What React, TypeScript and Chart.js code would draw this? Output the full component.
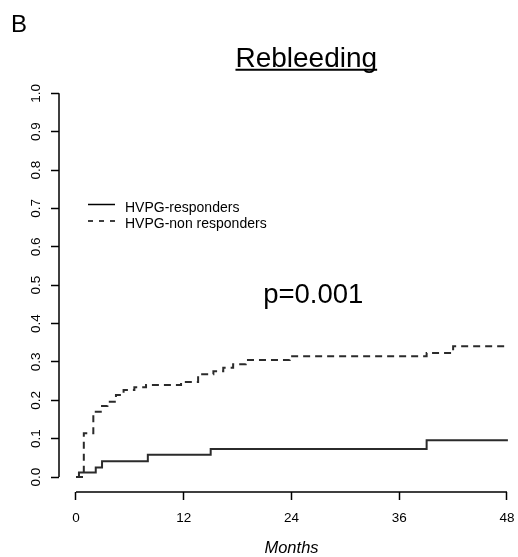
import React, { useEffect, useRef } from "react";
import { Chart, registerables } from "chart.js";

Chart.register(...registerables);

// ---- Data ----
const respondersMonths = [0, 0.33, 2.2, 2.9, 8.0, 15.0, 39.05, 48.1];
const respondersRisk = [0, 0.012, 0.025, 0.041, 0.058, 0.073, 0.096, 0.096];

const nonRespondersMonths = [
  0, 0.87, 1.93, 2.9, 3.5, 4.45, 5.3, 6.5, 7.8, 11.7, 13.6, 15.3, 16.4, 17.5,
  18.9, 23.8, 39.05, 42.0, 48.0,
];
const nonRespondersRisk = [
  0, 0.114, 0.17, 0.185, 0.196, 0.214, 0.227, 0.234, 0.24, 0.248, 0.268, 0.276,
  0.285, 0.294, 0.305, 0.315, 0.323, 0.341, 0.341,
];

const xTicks = [0, 12, 24, 36, 48];
const yTicks = [0, 0.1, 0.2, 0.3, 0.4, 0.5, 0.6, 0.7, 0.8, 0.9, 1.0];

const seriesLabels = ["HVPG-responders", "HVPG-non responders"];
const panelLabel = "B";
const chartTitle = "Rebleeding";
const pValueText = "p=0.001";
const xAxisTitle = "Months";

const FONT = "'Liberation Sans', Arial, Helvetica, sans-serif";
const LINE_COLOR = "#2b2b2b";

const overlayPlugin = {
  id: "overlay",
  afterDraw(chart: any) {
    const { ctx, chartArea } = chart;
    const xs = chart.scales.x;
    const ys = chart.scales.y;
    ctx.save();

    // R-style detached axis lines (from first to last tick)
    ctx.strokeStyle = "#000";
    ctx.lineWidth = 1.5;
    ctx.beginPath();
    ctx.moveTo(xs.getPixelForValue(xTicks[0]), chartArea.bottom);
    ctx.lineTo(xs.getPixelForValue(xTicks[xTicks.length - 1]), chartArea.bottom);
    ctx.moveTo(chartArea.left, ys.getPixelForValue(yTicks[0]));
    ctx.lineTo(chartArea.left, ys.getPixelForValue(yTicks[yTicks.length - 1]));
    ctx.stroke();

    ctx.fillStyle = "#000";
    // Panel label
    ctx.textAlign = "left";
    ctx.textBaseline = "alphabetic";
    ctx.font = `24px ${FONT}`;
    ctx.fillText(panelLabel, 11, 32.3);

    // Title, underlined
    ctx.font = `28px ${FONT}`;
    ctx.textAlign = "center";
    ctx.fillText(chartTitle, 306.3, 66.7);
    const tw = ctx.measureText(chartTitle).width;
    ctx.lineWidth = 2;
    ctx.beginPath();
    ctx.moveTo(306.3 - tw / 2, 69.8);
    ctx.lineTo(306.3 + tw / 2, 69.8);
    ctx.stroke();

    // Legend
    ctx.strokeStyle = "#000";
    ctx.lineWidth = 1.5;
    ctx.setLineDash([]);
    ctx.beginPath();
    ctx.moveTo(88, 204.5);
    ctx.lineTo(115, 204.5);
    ctx.stroke();
    ctx.setLineDash([5, 6]);
    ctx.beginPath();
    ctx.moveTo(88, 221);
    ctx.lineTo(115, 221);
    ctx.stroke();
    ctx.setLineDash([]);
    ctx.font = `14px ${FONT}`;
    ctx.textAlign = "left";
    ctx.fillText(seriesLabels[0], 125, 211.7);
    ctx.fillText(seriesLabels[1], 125, 228.3);

    // p-value
    ctx.font = `27.5px ${FONT}`;
    ctx.textAlign = "center";
    ctx.fillText(pValueText, 313.3, 303.3);

    // x-axis title
    ctx.font = `italic 16.5px ${FONT}`;
    ctx.fillText(
      xAxisTitle,
      (xs.getPixelForValue(xTicks[0]) + xs.getPixelForValue(xTicks[xTicks.length - 1])) / 2,
      553.3
    );
    ctx.restore();
  },
};

export default function App() {
  const canvasRef = useRef<HTMLCanvasElement | null>(null);

  useEffect(() => {
    if (!canvasRef.current) return;
    const chart = new Chart(canvasRef.current, {
      type: "line",
      data: {
        datasets: [
          {
            label: seriesLabels[0],
            data: respondersMonths.map((m, i) => ({ x: m, y: respondersRisk[i] })),
            borderColor: LINE_COLOR,
            borderWidth: 2,
            pointRadius: 0,
            stepped: "before",
            fill: false,
          },
          {
            label: seriesLabels[1],
            data: nonRespondersMonths.map((m, i) => ({ x: m, y: nonRespondersRisk[i] })),
            borderColor: LINE_COLOR,
            borderWidth: 2,
            borderDash: [7, 5],
            pointRadius: 0,
            stepped: "before",
            fill: false,
          },
        ],
      },
      options: {
        animation: false,
        responsive: false,
        devicePixelRatio: 1,
        layout: { padding: { top: 78, right: 6, left: 0, bottom: 0 } },
        plugins: {
          legend: { display: false },
          title: { display: false },
          tooltip: { enabled: false },
        },
        scales: {
          x: {
            type: "linear",
            min: -1.893,
            max: 48.557,
            afterBuildTicks: (scale: any) => {
              scale.ticks = xTicks.map((v) => ({ value: v }));
            },
            afterFit: (scale: any) => {
              scale.height = 65;
              scale.paddingLeft = 0;
              scale.paddingRight = 0;
            },
            border: { display: false },
            grid: {
              drawOnChartArea: false,
              drawTicks: true,
              tickLength: 8,
              tickWidth: 1.5,
              tickColor: "#000",
            },
            ticks: {
              autoSkip: false,
              maxRotation: 0,
              minRotation: 0,
              padding: 10,
              color: "#000",
              font: { family: FONT, size: 13.5 },
              callback: (v: any) => String(v),
            },
          },
          y: {
            type: "linear",
            min: -0.039,
            max: 1.04,
            afterBuildTicks: (scale: any) => {
              scale.ticks = yTicks.map((v) => ({ value: v }));
            },
            afterFit: (scale: any) => {
              scale.width = 59;
              scale.paddingTop = 0;
              scale.paddingBottom = 0;
            },
            border: { display: false },
            grid: {
              drawOnChartArea: false,
              drawTicks: true,
              tickLength: 8,
              tickWidth: 1.5,
              tickColor: "#000",
            },
            ticks: {
              autoSkip: false,
              minRotation: 90,
              maxRotation: 90,
              crossAlign: "center",
              padding: 5,
              color: "#000",
              font: { family: FONT, size: 13.5 },
              callback: (v: any) => Number(v).toFixed(1),
            },
          },
        },
      },
      plugins: [overlayPlugin],
    } as any);
    return () => chart.destroy();
  }, []);

  return (
    <div style={{ position: "fixed", left: 0, top: 0, width: 518, height: 557, background: "#fff" }}>
      <canvas ref={canvasRef} width={518} height={557} style={{ width: 518, height: 557, display: "block" }} />
    </div>
  );
}
